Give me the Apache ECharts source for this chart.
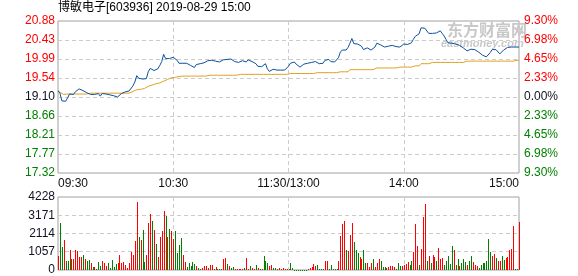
<!DOCTYPE html>
<html><head><meta charset="utf-8">
<script src="https://cdn.jsdelivr.net/npm/echarts@6/dist/echarts.min.js"></script>
<style>html,body{margin:0;padding:0;background:#fff}#c{width:578px;height:276px}</style>
</head><body><div id="c"></div>
<script>
const titleText = '博敏电子[603936] 2019-08-29 15:00';
const priceTicks = ['17.32','17.77','18.21','18.66','19.10','19.54','19.99','20.43','20.88'];
const pctTicks = ['9.30%','6.98%','4.65%','2.33%','0.00%','2.33%','4.65%','6.98%','9.30%'];
const timeTickIdx = [0,60,120,180,240];
const timeTicks = ['09:30','10:30','11:30/13:00','14:00','15:00'];

const price = [
19.24,19.19,19.01,19.05,19.00,19.08,19.17,19.15,19.16,19.22,
19.22,19.29,19.31,19.25,19.22,19.20,19.16,19.16,19.17,19.16,
19.19,19.18,19.12,19.18,19.17,19.17,19.16,19.15,19.15,19.13,
19.11,19.10,19.10,19.18,19.22,19.22,19.22,19.24,19.28,19.36,
19.45,19.60,19.54,19.53,19.52,19.48,19.53,19.69,19.77,19.74,
19.72,19.71,19.76,19.84,19.93,20.10,20.00,20.01,20.00,20.01,
20.03,20.00,19.96,19.89,19.85,19.89,19.93,19.89,19.86,19.84,
19.82,19.79,19.86,19.86,19.88,19.89,19.90,19.92,19.95,19.96,
19.96,19.96,19.94,19.94,19.92,19.93,19.97,20.00,19.98,20.00,
19.99,19.95,19.93,19.91,19.91,19.92,19.95,19.96,19.92,19.97,
19.96,19.93,19.90,19.88,19.82,19.78,19.81,19.83,19.88,19.76,
19.70,19.71,19.75,19.78,19.73,19.72,19.73,19.73,19.73,19.73,
19.82,
19.89,19.92,19.92,19.87,19.83,19.80,19.83,19.87,19.90,
19.89,19.90,19.91,19.94,19.93,19.91,19.88,19.84,19.89,19.96,
19.99,19.98,19.93,19.92,19.92,19.96,20.02,20.15,20.20,20.20,
20.20,20.26,20.36,20.47,20.35,20.35,20.34,20.33,20.29,20.21,
20.25,20.25,20.23,20.20,20.21,20.27,20.36,20.35,20.32,20.30,
20.27,20.29,20.29,20.30,20.31,20.30,20.28,20.27,20.27,20.28,
20.34,20.36,20.33,20.31,20.37,20.45,20.52,20.52,20.58,20.72,
20.74,20.71,20.68,20.59,20.55,20.59,20.57,20.60,20.64,20.65,
20.59,20.53,20.45,20.37,20.35,20.36,20.35,20.34,20.33,20.31,
20.29,20.25,20.21,20.18,20.17,20.22,20.23,20.21,20.17,20.15,
20.12,20.08,20.06,20.04,20.01,20.14,20.21,20.22,20.21,20.19,
20.11,20.15,20.20,20.23,20.26,20.27,20.27,20.27,20.27,20.27,20.27
];

const avgPrice = [
19.26,19.21,19.17,19.16,19.17,19.17,19.17,19.17,19.17,19.17,
19.17,19.17,19.17,19.17,19.17,19.17,19.19,19.19,19.19,19.19,
19.19,19.19,19.19,19.19,19.19,19.19,19.19,19.19,19.19,19.19,
19.19,19.19,19.19,19.19,19.19,19.19,19.19,19.19,19.21,19.23,
19.26,19.27,19.27,19.28,19.29,19.30,19.32,19.35,19.37,19.38,
19.40,19.41,19.42,19.43,19.45,19.47,19.50,19.51,19.53,19.55,
19.56,19.56,19.58,19.58,19.59,19.59,19.59,19.59,19.59,19.59,
19.59,19.59,19.59,19.59,19.59,19.59,19.59,19.59,19.61,19.61,
19.61,19.61,19.61,19.61,19.61,19.61,19.61,19.61,19.61,19.61,
19.61,19.61,19.61,19.61,19.61,19.63,19.63,19.63,19.63,19.63,
19.63,19.63,19.63,19.63,19.63,19.63,19.63,19.63,19.63,19.63,
19.63,19.63,19.63,19.63,19.63,19.63,19.63,19.63,19.63,19.63,
19.63,
19.65,19.65,19.65,19.65,19.65,19.65,19.65,19.65,19.65,19.65,19.65,19.65,19.65,
19.67,19.67,19.67,19.67,19.67,19.67,19.67,19.67,19.67,19.67,19.67,19.67,19.67,
19.69,19.69,19.69,19.69,19.69,
19.74,19.74,19.74,19.74,19.74,19.74,19.74,19.74,19.74,19.74,19.74,19.74,19.74,
19.78,19.78,19.78,19.78,19.78,19.78,19.78,19.78,19.78,19.78,19.78,19.78,19.78,
19.80,19.80,19.80,19.80,19.80,19.80,19.80,
19.83,19.83,19.83,19.83,
19.88,19.88,19.88,19.88,19.88,19.88,
19.91,19.91,19.91,19.91,19.91,19.91,19.91,19.91,19.91,19.91,19.91,19.91,19.91,19.91,19.91,19.91,19.91,19.91,
19.94,19.94,19.94,19.94,19.94,19.94,19.94,19.94,19.94,19.94,19.94,19.94,19.94,19.94,19.94,19.94,19.94,19.94,19.94,19.94,19.94,19.94,19.94,19.94,19.94,
19.96,19.96,19.96
];

const volume = [
800,2744,1333,1725,510,510,1137,647,647,1137,
1078,745,745,843,647,510,608,392,157,196,
39,451,255,510,392,255,392,118,588,157,
353,392,843,392,451,314,118,392,1039,843,
1686,3940,1921,1764,2313,490,843,2744,3254,2842,
2313,1490,745,1921,2254,3430,3136,1921,2372,2254,
1823,2254,980,1431,1862,843,451,157,431,255,
490,353,255,118,78,118,216,255,118,314,
314,59,196,78,39,39,647,706,353,235,
118,196,59,78,39,39,39,118,706,39,
235,118,78,274,118,39,39,784,510,431,
255,314,118,118,78,118,39,
118,39,78,78,431,118,20,20,20,20,
20,20,20,39,118,196,353,255,314,39,
39,39,510,510,78,314,78,78,78,510,
1960,2666,2842,1137,1098,2019,2744,1627,1137,980,
745,627,1137,392,392,196,392,666,196,392,
666,510,196,157,118,196,235,235,157,78,
431,235,235,274,353,490,274,510,1039,2666,
1372,314,1235,3097,3842,549,784,431,843,745,
510,1294,627,706,314,510,823,353,1372,1176,
314,666,235,431,666,470,274,549,823,470,
274,235,118,314,392,431,549,1823,1058,784,
941,706,549,549,784,588,706,745,1137,1235,
2548,39,39,2783
];

const volUp = [
1,0,0,1,0,0,1,0,1,1,
1,1,1,0,1,0,0,1,0,1,
0,0,0,1,1,1,0,0,0,0,
0,1,1,1,1,1,1,1,1,1,
1,1,0,1,0,0,1,1,1,0,
1,0,1,1,1,1,0,1,0,1,
1,0,0,0,0,1,1,0,0,0,
0,0,1,0,1,1,1,1,1,1,
1,0,1,0,0,0,1,1,0,1,
0,0,1,1,1,1,1,0,1,1,
0,1,1,0,1,0,1,0,0,0,
1,1,0,0,1,1,0,
1,1,1,1,0,0,0,0,0,0,
0,0,0,1,1,1,1,1,0,0,
0,0,1,1,0,0,0,0,0,1,
1,1,1,0,1,1,1,0,0,0,
1,1,0,0,1,1,1,0,1,1,
1,0,0,0,1,1,1,1,1,0,
0,0,1,1,1,1,0,0,1,1,
1,0,1,1,1,0,1,0,1,1,
0,1,1,1,0,0,0,0,0,1,
0,0,1,0,0,0,1,0,0,1,
1,1,0,0,0,0,0,0,0,1,
1,0,1,1,0,0,1,1,1,1,
1,0,0,1
];

const FONT = '"Liberation Sans", Arial, "Noto Sans CJK SC", sans-serif';
const RED = '#ff0000', GREEN = '#008000', DARK = '#111122';
const GRIDLINE = { show: true, lineStyle: { color: '#cccccc', type: [4, 3], width: 1 } };
const cats = price.map((_, i) => String(i));
const tickColor = v => { v = Number(v); return v > 4 ? RED : (v < 4 ? GREEN : DARK); };
const isTick = i => timeTickIdx.indexOf(i) >= 0;

const chart = echarts.init(document.getElementById('c'), null, { renderer: 'canvas' });
chart.setOption({
  animation: false,
  textStyle: { fontFamily: FONT },
  title: { text: titleText, left: 58, top: 2, padding: 0,
    textStyle: { fontSize: 12, fontWeight: 'normal', color: '#000', fontFamily: FONT } },
  graphic: [
    { type: 'text', left: 447, top: 22, z: 0,
      style: { text: '东方财富网', font: 'bold 16px "Noto Sans CJK SC"', fill: '#c8c8c8' } },
    { type: 'text', left: 441, top: 38, z: 0,
      style: { text: 'eastmoney.com', font: 'italic bold 11px "Liberation Sans"', fill: '#c8c8c8' } }
  ],
  grid: [
    { left: 58, right: 59, top: 21, height: 152, show: true, borderColor: '#a0a0a0', borderWidth: 1 },
    { left: 58, right: 59, top: 197, height: 73, show: true, borderColor: '#a0a0a0', borderWidth: 1 }
  ],
  xAxis: [
    { type: 'category', gridIndex: 0, data: cats, boundaryGap: false,
      axisLine: { show: false }, axisTick: { show: false },
      axisLabel: { interval: (i) => isTick(i), formatter: (v) => timeTicks[timeTickIdx.indexOf(Number(v))],
        margin: 5, fontSize: 12, color: '#111', fontFamily: FONT, alignMinLabel: 'left', alignMaxLabel: 'right' },
      splitLine: Object.assign({}, GRIDLINE, { interval: (i) => i > 0 && i < 240 && isTick(i) }) },
    { type: 'category', gridIndex: 1, data: cats, boundaryGap: false,
      axisLine: { show: false }, axisTick: { show: false }, axisLabel: { show: false },
      splitLine: Object.assign({}, GRIDLINE, { interval: (i) => i > 0 && i < 240 && isTick(i) }) }
  ],
  yAxis: [
    { type: 'value', gridIndex: 0, min: 17.32, max: 20.88, show: false, splitLine: { show: false } },
    { type: 'value', gridIndex: 0, position: 'left', min: 0, max: 8, interval: 1,
      axisLine: { show: false }, axisTick: { show: false },
      axisLabel: { formatter: (v) => priceTicks[v], color: tickColor, margin: 3, fontSize: 12, fontFamily: FONT },
      splitLine: Object.assign({}, GRIDLINE, { showMinLine: false, showMaxLine: false }) },
    { type: 'value', gridIndex: 0, position: 'right', min: 0, max: 8, interval: 1,
      axisLine: { show: false }, axisTick: { show: false },
      axisLabel: { formatter: (v) => pctTicks[v], color: tickColor, margin: 5, fontSize: 12, fontFamily: FONT },
      splitLine: { show: false } },
    { type: 'value', gridIndex: 1, min: 0, max: 4228, interval: 1057,
      axisLine: { show: false }, axisTick: { show: false },
      axisLabel: { formatter: (v) => String(v), color: DARK, margin: 3, fontSize: 12, fontFamily: FONT },
      splitLine: Object.assign({}, GRIDLINE, { showMinLine: false, showMaxLine: false }) }
  ],
  series: [
    { type: 'line', xAxisIndex: 0, yAxisIndex: 0, data: avgPrice, showSymbol: false, z: 3,
      lineStyle: { color: '#e0a020', width: 1 }, itemStyle: { color: '#e0a020' } },
    { type: 'line', xAxisIndex: 0, yAxisIndex: 0, data: price, showSymbol: false, z: 4,
      lineStyle: { color: '#0a50a0', width: 1 }, itemStyle: { color: '#0a50a0' } },
    { type: 'custom', xAxisIndex: 1, yAxisIndex: 3, z: 3,
      encode: { x: 0, y: 1 },
      data: volume.map((v, i) => [i, v, volUp[i]]),
      renderItem: (params, api) => {
        const top = api.coord([api.value(0), api.value(1)]);
        const base = api.coord([api.value(0), 0]);
        const x = Math.round(top[0]);
        const y0 = Math.round(top[1]);
        const y1 = Math.round(base[1]);
        return { type: 'rect', shape: { x: x, y: y0, width: 1, height: Math.max(1, y1 - y0) },
          style: { fill: api.value(2) ? RED : GREEN } };
      } }
  ]
});
</script></body></html>
